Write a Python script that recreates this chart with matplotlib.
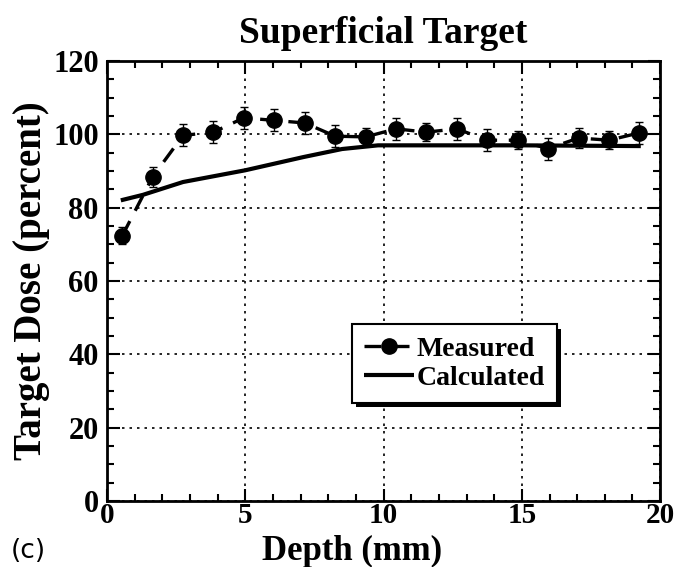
import matplotlib.pyplot as plt
import matplotlib.patheffects as pe
from matplotlib.ticker import MultipleLocator

plt.rcParams['font.family'] = ['Liberation Serif', 'DejaVu Serif']
plt.rcParams['font.weight'] = 'bold'

# measured target dose (percent) vs depth (mm)
depth_meas = [0.55, 1.65, 2.75, 3.85, 4.95, 6.05, 7.15, 8.25, 9.35, 10.45,
              11.55, 12.65, 13.75, 14.85, 15.95, 17.05, 18.15, 19.25]
dose_meas = [72.3, 88.4, 99.7, 100.6, 104.5, 103.8, 103.1, 99.5, 99.3, 101.5,
             100.6, 101.5, 98.4, 98.4, 96.1, 99.0, 98.4, 100.4]
dose_err = [2.3, 2.8, 3, 3, 3, 3, 3, 3, 2.5, 3, 2.5, 3, 3, 2.5, 3, 2.8, 2.5, 3]

# calculated
depth_calc = [0.5, 1.3, 2.75, 5.0, 7.1, 8.5, 9.8, 12.0, 15.0, 19.3]
dose_calc = [82.0, 83.5, 87.0, 90.2, 93.8, 96.0, 97.0, 97.0, 97.0, 96.8]

fig = plt.figure(figsize=(6.75, 5.67), dpi=100)
ax = fig.add_axes([0.1585, 0.1164, 0.8195, 0.776])

cline, = ax.plot(depth_calc, dose_calc, color='black', lw=3.0, solid_capstyle='butt',
                 label='Calculated', zorder=3)
ax.errorbar(depth_meas, dose_meas, yerr=dose_err, fmt='none', ecolor='black',
            elinewidth=1.0, capsize=3, capthick=1.0, zorder=4)
mline, = ax.plot(depth_meas, dose_meas, color='black', lw=2.4,
                 dashes=(5, 3.5), marker='o', ms=11, label='Measured', zorder=4)

ax.set_xlim(0, 20)
ax.set_ylim(0, 120)
ax.xaxis.set_major_locator(MultipleLocator(5))
ax.xaxis.set_minor_locator(MultipleLocator(1))
ax.yaxis.set_major_locator(MultipleLocator(20))
ax.yaxis.set_minor_locator(MultipleLocator(5))
ax.tick_params(which='both', direction='in', top=True, right=True, width=1.5)
ax.tick_params(which='major', length=9, labelsize=22)
ax.tick_params(axis='y', which='major', pad=6)
ax.tick_params(axis='x', which='major', pad=1, labelsize=21)
ax.tick_params(which='minor', length=5)
for s in ax.spines.values():
    s.set_linewidth(2)
ax.grid(True, which='major', color='black', linestyle=(0, (1.5, 3)), lw=1.2)

ax.set_title('Superficial Target', fontsize=27, fontweight='bold', pad=13)
ax.set_xlabel('Depth (mm)', fontsize=25, fontweight='bold')
ax.xaxis.set_label_coords(0.443, -0.078, transform=ax.transAxes)
ax.xaxis.label.set_va('top')
ax.set_ylabel('Target Dose (percent)', fontsize=28, fontweight='bold', labelpad=2)

leg = ax.legend([mline, cline], ['Measured', 'Calculated'], loc='lower left',
                bbox_to_anchor=(0.443, 0.223), borderaxespad=0, fontsize=20,
                frameon=True, fancybox=False, edgecolor='black', framealpha=1,
                handlelength=1.8, handletextpad=0.1, borderpad=0.42,
                labelspacing=0.15)
leg.get_frame().set_linewidth(1.5)
leg.set_zorder(10)
leg.get_frame().set_path_effects([pe.SimplePatchShadow(offset=(3, -3), shadow_rgbFace='black', alpha=1),
                                  pe.Normal()])

fig.text(0.016, 0.015, '(c)', fontsize=19, fontweight='normal', family='DejaVu Sans')

fig.savefig('out.png', dpi=100)
